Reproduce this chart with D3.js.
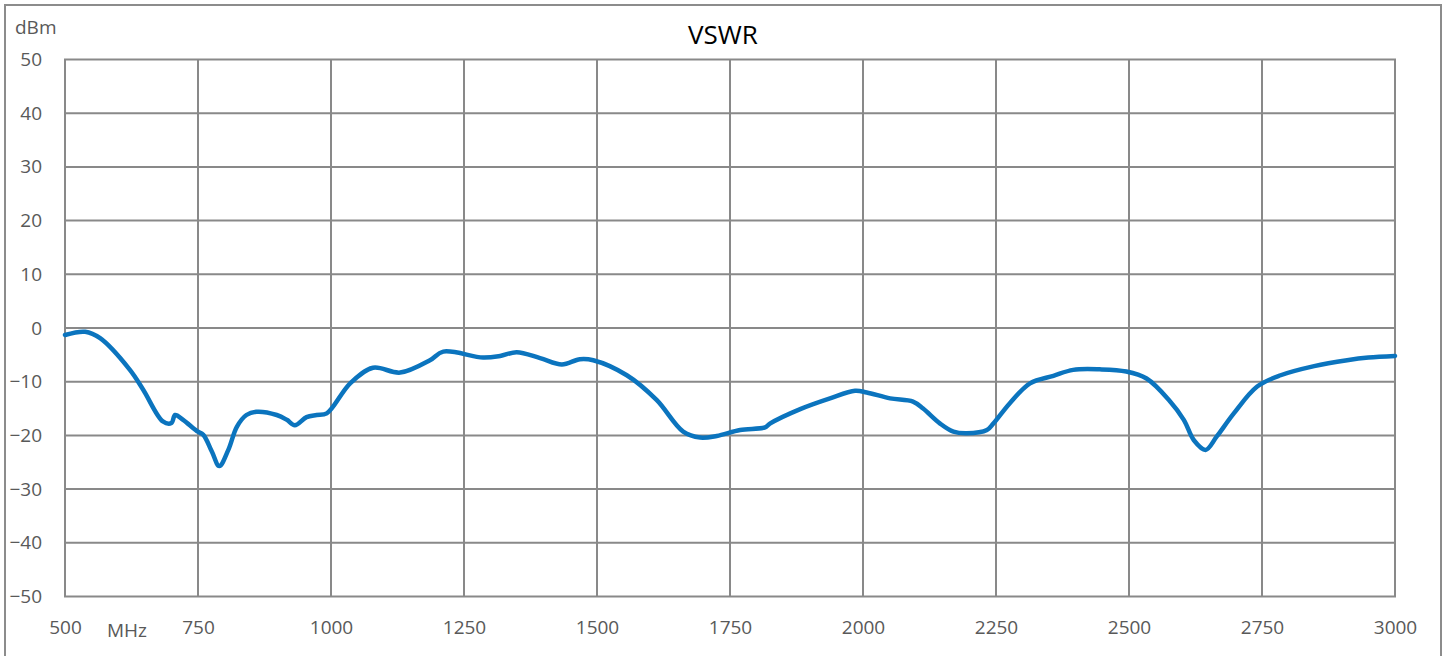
<!doctype html>
<html>
<meta charset="utf-8">
<style>
body { margin: 0; padding: 0; background: #fff; font-family: 'Open Sans', sans-serif; }
.tick text { fill: #595959; font-size: 19px; }
</style>
<body>
<svg width="1445" height="656"></svg>
<script src="https://d3js.org/d3.v7.min.js"></script>
<script>

// frequency (MHz)
var freqs = [500, 538, 566, 622, 647, 684, 700, 707, 722, 748, 760, 776, 790, 807, 823, 841, 860, 898, 917, 932, 954, 973, 992,
  1036, 1079, 1130, 1186, 1211, 1286, 1318, 1349, 1393, 1434, 1468, 1493, 1556, 1612, 1662, 1694, 1725,
  1769, 1816, 1825, 1882, 1938, 1985, 2007, 2051, 2094, 2113, 2145, 2170, 2195, 2233, 2245, 2276, 2314,
  2358, 2395, 2445, 2495, 2533, 2575, 2603, 2622, 2644, 2665, 2697, 2741, 2785, 2848, 2910, 2950, 3000];
// level (dBm)
var levels = [-1.3, -0.7, -1.9, -7.8, -11.5, -17.4, -17.7, -16.2, -17.1, -19.2, -19.9, -23.0, -25.7, -22.7, -18.4, -16.2, -15.6, -16.2, -17.1, -18.1, -16.6, -16.2, -15.9,
  -10.3, -7.4, -8.3, -6.0, -4.4, -5.5, -5.2, -4.5, -5.6, -6.8, -5.8, -6.0, -8.8, -13.4, -19.3, -20.4, -20.1,
  -19.0, -18.5, -17.8, -15.1, -13.1, -11.7, -12.0, -13.1, -13.7, -15.0, -17.8, -19.3, -19.6, -19.0, -17.8, -14.0, -10.3,
  -8.9, -7.8, -7.7, -8.1, -9.4, -13.4, -17.1, -20.9, -22.7, -20.2, -15.9, -10.9, -8.8, -7.1, -6.0, -5.5, -5.2];

var xTicks = [500, 750, 1000, 1250, 1500, 1750, 2000, 2250, 2500, 2750, 3000];
var yTicks = [50, 40, 30, 20, 10, 0, -10, -20, -30, -40, -50];

var svg = d3.select("svg");
var plotLeft = 65, plotRight = 1395, plotTop = 59.5, plotBottom = 596.5;

var x = d3.scaleLinear().domain([500, 3000]).range([plotLeft, plotRight]);
var y = d3.scaleLinear().domain([-50, 50]).range([plotBottom, plotTop]);

// outer frame
svg.append("rect")
    .attr("x", 5).attr("y", 5).attr("width", 1436).attr("height", 700)
    .attr("fill", "none").attr("stroke", "#8c8c8c").attr("stroke-width", 2);

// grid
svg.append("g").selectAll("line").data(xTicks).join("line")
    .attr("x1", d => x(d)).attr("x2", d => x(d))
    .attr("y1", plotTop).attr("y2", plotBottom)
    .attr("stroke", "#898989").attr("stroke-width", 2);
svg.append("g").selectAll("line").data(yTicks).join("line")
    .attr("x1", plotLeft - 1).attr("x2", plotRight + 1)
    .attr("y1", d => y(d)).attr("y2", d => y(d))
    .attr("stroke", "#898989").attr("stroke-width", 2);

// axes (labels only)
var yAxis = svg.append("g")
    .attr("transform", "translate(" + (plotLeft - 23) + ",0)")
    .call(d3.axisLeft(y).tickValues(yTicks).tickSize(0).tickPadding(0));
yAxis.select(".domain").remove();
yAxis.selectAll("text").attr("font-family", "'Open Sans', sans-serif");

var xAxis = svg.append("g")
    .attr("transform", "translate(0," + (plotBottom + 24) + ")")
    .call(d3.axisBottom(x).tickValues(xTicks).tickSize(0).tickPadding(0).tickFormat(d3.format("d")));
xAxis.select(".domain").remove();
xAxis.selectAll("text").attr("font-family", "'Open Sans', sans-serif");

// unit labels and title
svg.append("text").attr("x", 127).attr("y", 637).attr("text-anchor", "middle")
    .attr("fill", "#595959").style("font-size", "19px").text("MHz");
svg.append("text").attr("x", 15).attr("y", 34)
    .attr("fill", "#595959").style("font-size", "19px").text("dBm");
svg.append("text").attr("x", 723).attr("y", 44).attr("text-anchor", "middle")
    .attr("fill", "#000").style("font-size", "26px").text("VSWR");

// the trace
var line = d3.line()
    .x((d, i) => x(freqs[i]))
    .y(d => y(d))
    .curve(d3.curveCatmullRom.alpha(0.5));

svg.append("path")
    .datum(levels)
    .attr("fill", "none")
    .attr("stroke", "#0b74be")
    .attr("stroke-width", 4.5)
    .attr("stroke-linejoin", "round")
    .attr("stroke-linecap", "round")
    .attr("d", line);

</script>
</body>
</html>
